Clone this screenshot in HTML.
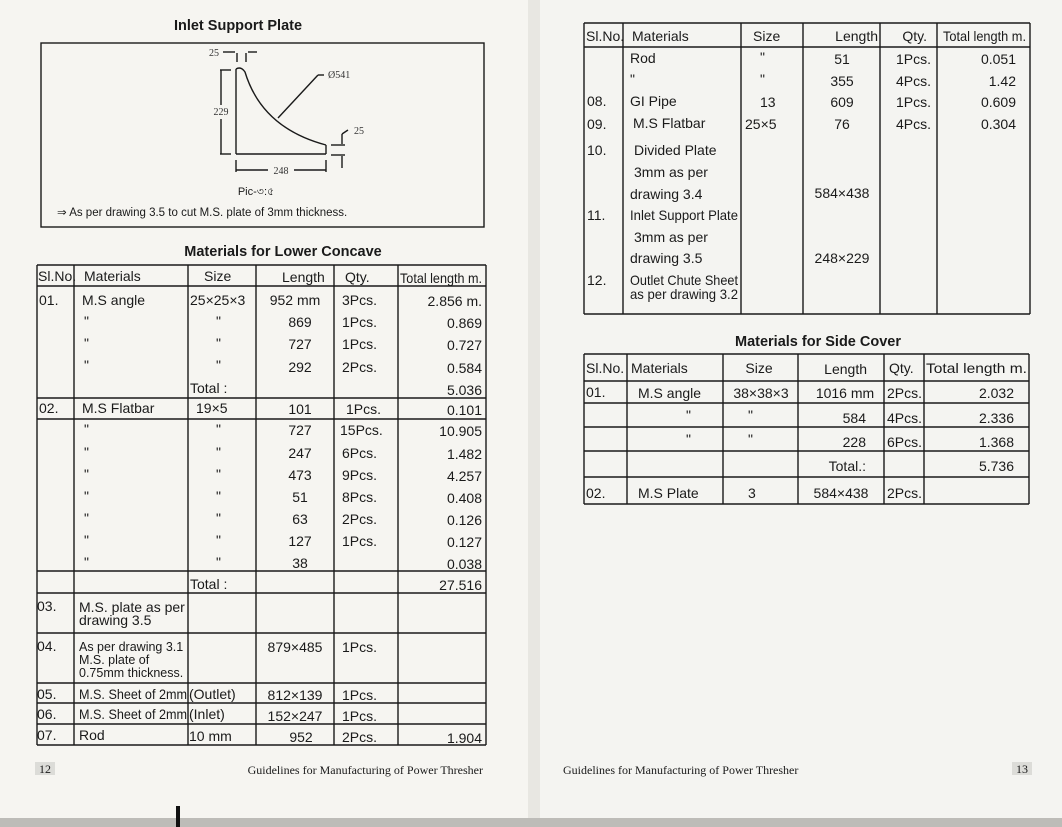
<!DOCTYPE html>
<html><head><meta charset="utf-8"><style>
html,body{margin:0;padding:0;background:#f5f4ef}
svg{display:block}
text{font-family:"Liberation Sans",sans-serif;fill:#1a1a1a}
.t{font-size:14px}
.b{font-weight:bold;font-size:14.5px}
.s{font-family:"Liberation Serif",serif;font-size:12px}
.d{font-family:"Liberation Serif",serif;font-size:10px;fill:#333}
.g line,.g path{stroke:#1a1a1a;stroke-width:1.4;fill:none}
</style></head><body>
<svg width="1062" height="827" viewBox="0 0 1062 827" xmlns="http://www.w3.org/2000/svg">
<rect x="0" y="0" width="531" height="827" fill="#f6f5f1"/>
<rect x="531" y="0" width="531" height="827" fill="#f4f4f1"/>
<rect x="528" y="0" width="12" height="827" fill="#e8e7e2"/>
<rect x="0" y="818" width="1062" height="9" fill="#bdbcb8"/>
<rect x="176" y="806" width="4" height="21" fill="#111"/>

<!-- LEFT PAGE -->
<text x="238" y="30" class="b" text-anchor="middle">Inlet Support Plate</text>
<g class="g">
<rect x="41" y="43" width="443" height="184" fill="none" stroke="#1a1a1a" stroke-width="1.4"/>
<line x1="236" y1="69" x2="236" y2="154"/>
<line x1="236" y1="154" x2="326" y2="154"/>
<line x1="326" y1="145" x2="326" y2="154"/>
<path d="M236 69 Q241 66 245 72 Q262 128 326 145"/>
<line x1="220" y1="70" x2="231" y2="70"/><line x1="220" y1="154" x2="231" y2="154"/><line x1="221" y1="70" x2="221" y2="105"/><line x1="221" y1="119" x2="221" y2="154"/>
<line x1="237" y1="53" x2="237" y2="62"/><line x1="246" y1="53" x2="246" y2="62"/><line x1="223" y1="52" x2="235" y2="52"/><line x1="248" y1="52" x2="257" y2="52"/>
<line x1="236" y1="160" x2="236" y2="172"/><line x1="326" y1="160" x2="326" y2="172"/><line x1="236" y1="170" x2="268" y2="170"/><line x1="294" y1="170" x2="326" y2="170"/>
<line x1="278" y1="118" x2="318" y2="75"/><line x1="318" y1="75" x2="324" y2="75"/>
<line x1="331" y1="145" x2="345" y2="145"/><line x1="331" y1="155" x2="345" y2="155"/><line x1="342" y1="134" x2="342" y2="144"/><line x1="342" y1="156" x2="342" y2="168"/><line x1="342" y1="134" x2="348" y2="130"/>
</g>
<text x="214" y="56" class="d" text-anchor="middle">25</text>
<text x="221" y="115" class="d" text-anchor="middle">229</text>
<text x="328" y="78" class="d">Ø541</text>
<text x="354" y="134" class="d">25</text>
<text x="281" y="174" class="d" text-anchor="middle">248</text>
<text x="256" y="195" style="font-size:11px" text-anchor="middle">Pic-৩:৫</text>
<text x="57" y="216" style="font-size:11.5px">⇒  As per drawing 3.5 to cut M.S. plate of 3mm thickness.</text>

<text x="283" y="256" class="b" text-anchor="middle">Materials for Lower Concave</text>
<g class="g">
<line x1="37" y1="265" x2="486" y2="265"/><line x1="37" y1="286" x2="486" y2="286"/>
<line x1="37" y1="398" x2="486" y2="398"/><line x1="37" y1="419" x2="486" y2="419"/>
<line x1="37" y1="571" x2="486" y2="571"/><line x1="37" y1="593" x2="486" y2="593"/>
<line x1="37" y1="633" x2="486" y2="633"/><line x1="37" y1="683" x2="486" y2="683"/>
<line x1="37" y1="703" x2="486" y2="703"/><line x1="37" y1="724" x2="486" y2="724"/>
<line x1="37" y1="745" x2="486" y2="745"/>
<line x1="37" y1="265" x2="37" y2="745"/><line x1="74" y1="265" x2="74" y2="745"/>
<line x1="188" y1="265" x2="188" y2="745"/><line x1="256" y1="265" x2="256" y2="745"/>
<line x1="334" y1="265" x2="334" y2="745"/><line x1="398" y1="265" x2="398" y2="745"/>
<line x1="486" y1="265" x2="486" y2="745"/>
</g>
<g class="t">
<text x="38" y="281">Sl.No.</text><text x="84" y="281">Materials</text><text x="204" y="281">Size</text><text x="282" y="282">Length</text><text x="345" y="282">Qty.</text><text x="400" y="283" textLength="82" lengthAdjust="spacingAndGlyphs">Total length m.</text>
<text x="39" y="305">01.</text><text x="82" y="305">M.S angle</text><text x="190" y="305">25×25×3</text><text x="295" y="305" text-anchor="middle">952 mm</text><text x="342" y="305">3Pcs.</text><text x="482" y="306" text-anchor="end">2.856 m.</text>
<text x="84" y="326">"</text><text x="216" y="326">"</text><text x="300" y="327" text-anchor="middle">869</text><text x="342" y="327">1Pcs.</text><text x="482" y="328" text-anchor="end">0.869</text>
<text x="84" y="348">"</text><text x="216" y="348">"</text><text x="300" y="349" text-anchor="middle">727</text><text x="342" y="349">1Pcs.</text><text x="482" y="350" text-anchor="end">0.727</text>
<text x="84" y="370">"</text><text x="216" y="370">"</text><text x="300" y="372" text-anchor="middle">292</text><text x="342" y="372">2Pcs.</text><text x="482" y="373" text-anchor="end">0.584</text>
<text x="190" y="393">Total :</text><text x="482" y="395" text-anchor="end">5.036</text>
<text x="39" y="413">02.</text><text x="82" y="413">M.S Flatbar</text><text x="196" y="413">19×5</text><text x="300" y="414" text-anchor="middle">101</text><text x="346" y="414">1Pcs.</text><text x="482" y="415" text-anchor="end">0.101</text>
<text x="84" y="434">"</text><text x="216" y="434">"</text><text x="300" y="435" text-anchor="middle">727</text><text x="340" y="435">15Pcs.</text><text x="482" y="436" text-anchor="end">10.905</text>
<text x="84" y="457">"</text><text x="216" y="457">"</text><text x="300" y="458" text-anchor="middle">247</text><text x="342" y="458">6Pcs.</text><text x="482" y="459" text-anchor="end">1.482</text>
<text x="84" y="479">"</text><text x="216" y="479">"</text><text x="300" y="480" text-anchor="middle">473</text><text x="342" y="480">9Pcs.</text><text x="482" y="481" text-anchor="end">4.257</text>
<text x="84" y="501">"</text><text x="216" y="501">"</text><text x="300" y="502" text-anchor="middle">51</text><text x="342" y="502">8Pcs.</text><text x="482" y="503" text-anchor="end">0.408</text>
<text x="84" y="523">"</text><text x="216" y="523">"</text><text x="300" y="524" text-anchor="middle">63</text><text x="342" y="524">2Pcs.</text><text x="482" y="525" text-anchor="end">0.126</text>
<text x="84" y="545">"</text><text x="216" y="545">"</text><text x="300" y="546" text-anchor="middle">127</text><text x="342" y="546">1Pcs.</text><text x="482" y="547" text-anchor="end">0.127</text>
<text x="84" y="567">"</text><text x="216" y="567">"</text><text x="300" y="568" text-anchor="middle">38</text><text x="482" y="569" text-anchor="end">0.038</text>
<text x="190" y="589">Total :</text><text x="482" y="590" text-anchor="end">27.516</text>
<text x="37" y="611">03.</text><text x="79" y="612">M.S. plate as per</text><text x="79" y="625">drawing 3.5</text>
<text x="37" y="651">04.</text>
<text x="79" y="651" style="font-size:12.5px">As per drawing 3.1</text><text x="79" y="664" style="font-size:12.5px">M.S. plate of</text><text x="79" y="677" style="font-size:12.5px">0.75mm thickness.</text>
<text x="295" y="652" text-anchor="middle">879×485</text><text x="342" y="652">1Pcs.</text>
<text x="37" y="699">05.</text><text x="79" y="699" textLength="108" lengthAdjust="spacingAndGlyphs">M.S. Sheet of 2mm</text><text x="189" y="699">(Outlet)</text><text x="295" y="700" text-anchor="middle">812×139</text><text x="342" y="700">1Pcs.</text>
<text x="37" y="719">06.</text><text x="79" y="719" textLength="108" lengthAdjust="spacingAndGlyphs">M.S. Sheet of 2mm</text><text x="189" y="719">(Inlet)</text><text x="295" y="721" text-anchor="middle">152×247</text><text x="342" y="721">1Pcs.</text>
<text x="37" y="740">07.</text><text x="79" y="740">Rod</text><text x="189" y="741">10 mm</text><text x="301" y="742" text-anchor="middle">952</text><text x="342" y="742">2Pcs.</text><text x="482" y="743" text-anchor="end">1.904</text>
</g>
<rect x="35" y="762" width="20" height="13" fill="#dcdcd8"/>
<text x="45" y="773" class="s" text-anchor="middle">12</text>
<text x="483" y="774" class="s" text-anchor="end">Guidelines for Manufacturing of Power Thresher</text>

<!-- RIGHT PAGE -->
<g class="g">
<line x1="584" y1="23" x2="1030" y2="23"/><line x1="584" y1="47" x2="1030" y2="47"/><line x1="584" y1="314" x2="1030" y2="314"/>
<line x1="584" y1="23" x2="584" y2="314"/><line x1="623" y1="23" x2="623" y2="314"/>
<line x1="741" y1="23" x2="741" y2="314"/><line x1="803" y1="23" x2="803" y2="314"/>
<line x1="880" y1="23" x2="880" y2="314"/><line x1="937" y1="23" x2="937" y2="314"/>
<line x1="1030" y1="23" x2="1030" y2="314"/>
</g>
<g class="t">
<text x="586" y="41">Sl.No.</text><text x="632" y="41">Materials</text><text x="753" y="41">Size</text><text x="878" y="41" text-anchor="end">Length</text><text x="927" y="41" text-anchor="end">Qty.</text><text x="943" y="41" textLength="83" lengthAdjust="spacingAndGlyphs">Total length m.</text>
<text x="630" y="63">Rod</text><text x="760" y="62">"</text><text x="842" y="64" text-anchor="middle">51</text><text x="896" y="64">1Pcs.</text><text x="1016" y="64" text-anchor="end">0.051</text>
<text x="630" y="84">"</text><text x="760" y="84">"</text><text x="842" y="86" text-anchor="middle">355</text><text x="896" y="86">4Pcs.</text><text x="1016" y="86" text-anchor="end">1.42</text>
<text x="587" y="106">08.</text><text x="630" y="106">GI Pipe</text><text x="760" y="107">13</text><text x="842" y="107" text-anchor="middle">609</text><text x="896" y="107">1Pcs.</text><text x="1016" y="107" text-anchor="end">0.609</text>
<text x="587" y="129">09.</text><text x="633" y="128">M.S Flatbar</text><text x="745" y="129">25×5</text><text x="842" y="129" text-anchor="middle">76</text><text x="896" y="129">4Pcs.</text><text x="1016" y="129" text-anchor="end">0.304</text>
<text x="587" y="155">10.</text><text x="634" y="155">Divided Plate</text>
<text x="634" y="177">3mm as per</text>
<text x="630" y="199">drawing 3.4</text><text x="842" y="198" text-anchor="middle">584×438</text>
<text x="587" y="220">11.</text><text x="630" y="220" textLength="108" lengthAdjust="spacingAndGlyphs">Inlet Support Plate</text>
<text x="634" y="242">3mm as per</text>
<text x="630" y="263">drawing 3.5</text><text x="842" y="263" text-anchor="middle">248×229</text>
<text x="587" y="285">12.</text><text x="630" y="285" textLength="108" lengthAdjust="spacingAndGlyphs">Outlet Chute Sheet</text>
<text x="630" y="299" textLength="108" lengthAdjust="spacingAndGlyphs">as per drawing 3.2</text>
</g>

<text x="818" y="346" class="b" text-anchor="middle">Materials for Side Cover</text>
<g class="g">
<line x1="584" y1="354" x2="1029" y2="354"/><line x1="584" y1="381" x2="1029" y2="381"/>
<line x1="584" y1="403" x2="1029" y2="403"/><line x1="584" y1="427" x2="1029" y2="427"/>
<line x1="584" y1="451" x2="1029" y2="451"/><line x1="584" y1="477" x2="1029" y2="477"/>
<line x1="584" y1="504" x2="1029" y2="504"/>
<line x1="584" y1="354" x2="584" y2="504"/><line x1="627" y1="354" x2="627" y2="504"/>
<line x1="723" y1="354" x2="723" y2="504"/><line x1="798" y1="354" x2="798" y2="504"/>
<line x1="884" y1="354" x2="884" y2="504"/><line x1="924" y1="354" x2="924" y2="504"/>
<line x1="1029" y1="354" x2="1029" y2="504"/>
</g>
<g class="t">
<text x="586" y="373">Sl.No.</text><text x="631" y="373">Materials</text><text x="759" y="373" text-anchor="middle">Size</text><text x="867" y="374" text-anchor="end">Length</text><text x="889" y="373">Qty.</text><text x="926" y="373" textLength="101" lengthAdjust="spacingAndGlyphs">Total length m.</text>
<text x="586" y="397">01.</text><text x="638" y="398">M.S angle</text><text x="761" y="398" text-anchor="middle">38×38×3</text><text x="845" y="398" text-anchor="middle">1016 mm</text><text x="887" y="398">2Pcs.</text><text x="1014" y="398" text-anchor="end">2.032</text>
<text x="686" y="420">"</text><text x="748" y="420">"</text><text x="866" y="423" text-anchor="end">584</text><text x="887" y="423">4Pcs.</text><text x="1014" y="423" text-anchor="end">2.336</text>
<text x="686" y="444">"</text><text x="748" y="444">"</text><text x="866" y="447" text-anchor="end">228</text><text x="887" y="447">6Pcs.</text><text x="1014" y="447" text-anchor="end">1.368</text>
<text x="866" y="471" text-anchor="end">Total.:</text><text x="1014" y="471" text-anchor="end">5.736</text>
<text x="586" y="498">02.</text><text x="638" y="498">M.S Plate</text><text x="748" y="498">3</text><text x="841" y="498" text-anchor="middle">584×438</text><text x="887" y="498">2Pcs.</text>
</g>
<text x="563" y="774" class="s">Guidelines for Manufacturing of Power Thresher</text>
<rect x="1012" y="762" width="20" height="13" fill="#dcdcd8"/>
<text x="1022" y="773" class="s" text-anchor="middle">13</text>
</svg>
</body></html>
